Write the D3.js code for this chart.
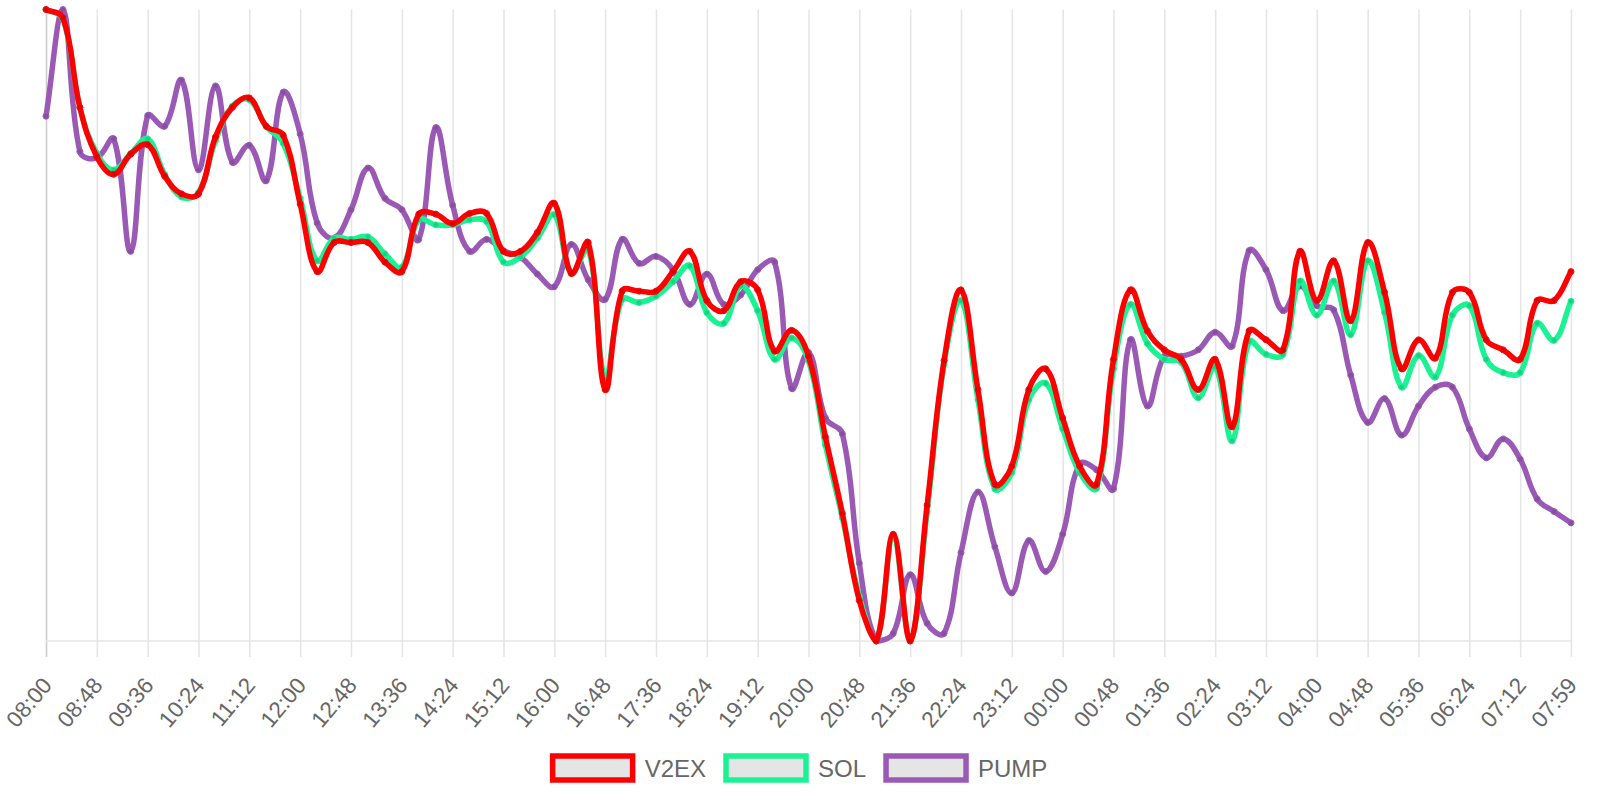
<!DOCTYPE html>
<html>
<head>
<meta charset="utf-8">
<script src="https://cdn.jsdelivr.net/npm/d3@7"></script>
<style>
  html, body { margin: 0; padding: 0; background: #ffffff; }
  svg { display: block; }
</style>
</head>
<body>
<svg id="chart" width="1600" height="800"></svg>
<script>
// ---- data ----
const tickLabels = ["08:00","08:48","09:36","10:24","11:12","12:00","12:48","13:36","14:24","15:12",
  "16:00","16:48","17:36","18:24","19:12","20:00","20:48","21:36","22:24","23:12",
  "00:00","00:48","01:36","02:24","03:12","04:00","04:48","05:36","06:24","07:12","07:59"];
const pointsPerTick = 3;

const seriesNames = ["V2EX", "SOL", "PUMP"];
const seriesColors = ["#ff0000", "#1af294", "#9b59b6"];

const v2exValues = [100.0, 98.7, 84.5, 76.7, 73.9, 77.1, 78.6, 73.6, 70.8, 70.8,
  79.8, 84.5, 86.0, 81.5, 80.1, 69.2, 58.5, 63.1, 63.1, 63.1,
  60.0, 58.5, 67.6, 67.6, 66.1, 67.7, 67.7, 61.7, 61.7, 64.7,
  69.3, 58.2, 63.1, 39.8, 55.4, 55.4, 55.4, 58.5, 61.7, 53.9,
  52.3, 56.9, 55.6, 45.9, 49.2, 45.1, 32.3, 20.2, 6.4, 0.0,
  16.9, 0.0, 21.5, 44.4, 55.6, 39.8, 24.8, 27.7, 39.8, 43.1,
  35.3, 27.7, 24.8, 44.6, 55.6, 49.1, 46.1, 44.6, 39.8, 44.6,
  33.9, 49.1, 47.7, 46.1, 61.7, 53.9, 60.2, 50.7, 63.1, 55.2,
  43.1, 47.7, 44.8, 55.2, 55.2, 47.7, 46.1, 44.6, 53.9, 53.9, 58.5];

const solValues = [100.0, 98.5, 84.5, 77.2, 74.6, 77.2, 79.5, 73.9, 70.3, 71.0,
  79.2, 84.7, 85.7, 81.5, 78.8, 70.1, 60.2, 63.8, 63.6, 64.0,
  61.3, 59.2, 66.7, 65.9, 65.9, 66.7, 66.4, 60.0, 60.8, 63.8,
  67.5, 58.2, 62.1, 41.5, 54.1, 53.6, 54.6, 56.9, 59.4, 52.0,
  50.3, 56.2, 52.3, 44.6, 48.0, 44.4, 31.0, 19.5, 7.1, 0.0,
  16.3, 0.0, 20.5, 43.8, 53.9, 38.2, 24.1, 26.7, 38.2, 40.8,
  33.6, 26.7, 24.2, 43.1, 53.3, 47.1, 44.6, 44.1, 38.5, 43.4,
  31.7, 47.4, 45.4, 45.4, 57.0, 51.6, 57.0, 48.5, 60.2, 52.0,
  40.2, 45.2, 41.8, 51.6, 53.1, 44.6, 42.5, 42.5, 50.3, 47.6, 53.8];

const pumpValues = [83.1, 100.0, 77.5, 76.5, 79.5, 61.7, 83.2, 81.5, 88.8, 74.6,
  87.9, 75.8, 78.5, 72.9, 86.9, 80.3, 66.2, 63.8, 68.3, 74.9,
  70.1, 68.3, 63.6, 81.3, 69.0, 61.7, 63.6, 61.8, 60.8, 58.1,
  56.1, 62.8, 57.2, 54.1, 63.6, 59.8, 60.9, 58.8, 53.3, 58.1,
  53.3, 54.8, 58.8, 60.0, 40.0, 45.7, 35.3, 32.8, 12.3, 0.0,
  1.2, 10.5, 2.8, 1.2, 14.0, 23.6, 14.9, 7.6, 15.9, 11.0,
  16.9, 28.0, 27.1, 24.1, 47.7, 37.2, 45.1, 45.1, 46.1, 48.9,
  46.7, 61.8, 58.8, 52.3, 56.2, 53.1, 52.4, 42.1, 34.6, 38.4,
  32.6, 37.2, 40.2, 40.2, 33.6, 29.0, 32.0, 28.8, 22.5, 20.5, 18.7];

const seriesValues = [v2exValues, solValues, pumpValues];

// ---- layout ----
const W = 1600, H = 800;
const plot = { left: 46, right: 1571, top: 9.5, bottom: 641 };
const svg = d3.select("#chart");
const FONT = "'Liberation Sans', Arial, Helvetica, sans-serif";

const nPoints = v2exValues.length;
const x = d3.scaleLinear().domain([0, nPoints - 1]).range([plot.left, plot.right]);
const y = d3.scaleLinear().domain([0, 100]).range([plot.bottom, plot.top]);

// ---- grid / axis ----
const tickIdx = d3.range(0, tickLabels.length).map(k => k * pointsPerTick);
const xAxis = d3.axisBottom(x)
  .tickValues(tickIdx)
  .tickSize(plot.bottom - plot.top + 16)
  .tickFormat((d, i) => tickLabels[i]);

const gAxis = svg.append("g")
  .attr("transform", `translate(0,${plot.top})`)
  .call(xAxis);
gAxis.select(".domain").remove();
gAxis.selectAll(".tick line")
  .attr("stroke", (d, i) => i === 0 ? "#cdcdcd" : "#e6e6e6")
  .attr("stroke-width", 1.6);
gAxis.selectAll(".tick text")
  .attr("fill", "#666666")
  .attr("font-family", FONT)
  .attr("font-size", 22.5)
  .attr("text-anchor", "end")
  .attr("dy", null)
  .attr("y", null)
  .attr("transform", `translate(2,${plot.bottom - plot.top + 41}) rotate(-50)`)
  .attr("dominant-baseline", "middle");

// bottom line
svg.append("line")
  .attr("x1", plot.left).attr("x2", plot.right)
  .attr("y1", plot.bottom).attr("y2", plot.bottom)
  .attr("stroke", "#e6e6e6").attr("stroke-width", 1.6);

// ---- Chart.js-like spline (tension 0.4, capped to chart area) ----
function chartJsCurve(tension, area) {
  return function(context) {
    let pts = [];
    return {
      areaStart() {}, areaEnd() {},
      lineStart() { pts = []; },
      point(px, py) { pts.push({ x: +px, y: +py }); },
      lineEnd() {
        const n = pts.length;
        if (!n) return;
        const cap = q => ({
          x: Math.max(area.x0, Math.min(area.x1, q.x)),
          y: Math.max(area.y0, Math.min(area.y1, q.y))
        });
        const cps = pts.map((p, i) => {
          const prev = pts[Math.max(i - 1, 0)];
          const next = pts[Math.min(i + 1, n - 1)];
          const d01 = Math.hypot(p.x - prev.x, p.y - prev.y);
          const d12 = Math.hypot(next.x - p.x, next.y - p.y);
          let s01 = d01 / (d01 + d12), s12 = d12 / (d01 + d12);
          if (isNaN(s01)) s01 = 0;
          if (isNaN(s12)) s12 = 0;
          const fa = tension * s01, fb = tension * s12;
          return {
            prev: cap({ x: p.x - fa * (next.x - prev.x), y: p.y - fa * (next.y - prev.y) }),
            next: cap({ x: p.x + fb * (next.x - prev.x), y: p.y + fb * (next.y - prev.y) })
          };
        });
        context.moveTo(pts[0].x, pts[0].y);
        for (let i = 1; i < n; i++) {
          context.bezierCurveTo(cps[i - 1].next.x, cps[i - 1].next.y,
            cps[i].prev.x, cps[i].prev.y, pts[i].x, pts[i].y);
        }
      }
    };
  };
}

const curve = chartJsCurve(0.4, { x0: plot.left, x1: plot.right, y0: plot.top, y1: plot.bottom });
const line = d3.line().x((d, i) => x(i)).y(d => y(d)).curve(curve);

// draw last series first so first series is on top
for (let s = seriesValues.length - 1; s >= 0; s--) {
  const g = svg.append("g").attr("class", "series-" + seriesNames[s]);
  g.append("path")
    .datum(seriesValues[s])
    .attr("d", line)
    .attr("fill", "none")
    .attr("stroke", seriesColors[s])
    .attr("stroke-width", 5.5)
    .attr("stroke-linejoin", "round")
    .attr("stroke-linecap", "round");
  g.selectAll("circle")
    .data(seriesValues[s])
    .join("circle")
    .attr("cx", (d, i) => x(i))
    .attr("cy", d => y(d))
    .attr("r", 3)
    .attr("fill", "rgba(0,0,0,0.12)")
    .attr("stroke", seriesColors[s])
    .attr("stroke-width", 1);
}

// ---- legend ----
const legend = svg.append("g");
const boxW = 80, boxH = 24, fontSize = 24, gap = 20;
const items = seriesNames.map((name, i) => {
  const g = legend.append("g");
  g.append("rect")
    .attr("x", 0).attr("y", -boxH / 2)
    .attr("width", boxW).attr("height", boxH)
    .attr("fill", "rgba(0,0,0,0.1)")
    .attr("stroke", seriesColors[i])
    .attr("stroke-width", 5.5);
  const t = g.append("text")
    .attr("x", boxW + fontSize / 2)
    .attr("y", 8.5)
    .attr("fill", "#666666")
    .attr("font-family", FONT)
    .attr("font-size", fontSize)
    .text(name);
  return { g, w: boxW + fontSize / 2 + t.node().getComputedTextLength() };
});
const total = d3.sum(items, d => d.w) + gap * (items.length - 1);
let cx = W / 2 - total / 2;
items.forEach(it => {
  it.g.attr("transform", `translate(${cx},768)`);
  cx += it.w + gap;
});
</script>
</body>
</html>
